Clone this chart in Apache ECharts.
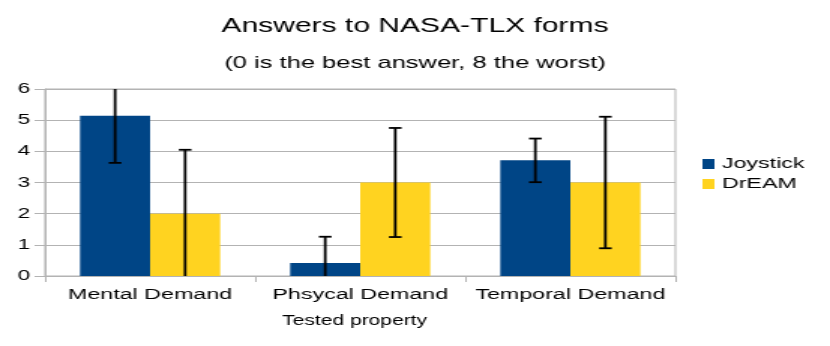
<!DOCTYPE html>
<html>
<head>
<meta charset="utf-8">
<script src="https://cdn.jsdelivr.net/npm/echarts@6/dist/echarts.min.js"></script>
<style>
html, body { margin: 0; padding: 0; overflow: hidden; background: #fff; }
/* the reference picture is stretched sideways, so draw narrow and stretch */
#main { width: 553px; height: 346px; transform: scaleX(1.5009); transform-origin: 0 0; }
</style>
</head>
<body>
<div id="main"></div>
<script>
var categories = ['Mental Demand', 'Phsycal Demand', 'Temporal Demand'];
var joystick = [5.14, 0.42, 3.71];
var joystickErr = [1.51, 0.84, 0.70];
var dream = [2.0, 3.0, 3.0];
var dreamErr = [2.05, 1.75, 2.11];
var yTicks = [0, 1, 2, 3, 4, 5, 6];

var font = 'Liberation Sans';
var yMin = yTicks[0], yMax = yTicks[yTicks.length - 1];
var catGap = 0.333;

function errData(vals, errs) {
    return vals.map(function (v, i) { return [i, v - errs[i], v + errs[i]]; });
}

// side: -1 for first bar, +1 for second
function errSeries(name, vals, errs, side) {
    return {
        name: name,
        type: 'custom',
        z: 10,
        data: errData(vals, errs),
        encode: { x: 0, y: [1, 2] },
        renderItem: function (params, api) {
            var idx = api.value(0);
            var lo = api.value(1), hi = api.value(2);
            var band = api.size([1, 0])[0];
            var barW = band * (1 - catGap) / 2;
            var capLo = lo >= yMin, capHi = hi <= yMax;
            lo = Math.max(lo, yMin);
            hi = Math.min(hi, yMax);
            var pLo = api.coord([idx, lo]);
            var pHi = api.coord([idx, hi]);
            var x = pLo[0] + side * barW / 2;
            var cw = 4.2;
            var style = { stroke: '#000', lineWidth: 1.8 };
            var kids = [{ type: 'line', shape: { x1: x, y1: pLo[1], x2: x, y2: pHi[1] }, style: style }];
            if (capHi) kids.push({ type: 'line', shape: { x1: x - cw, y1: pHi[1], x2: x + cw, y2: pHi[1] }, style: style });
            if (capLo) kids.push({ type: 'line', shape: { x1: x - cw, y1: pLo[1], x2: x + cw, y2: pLo[1] }, style: style });
            return { type: 'group', children: kids };
        }
    };
}

var myChart = echarts.init(document.getElementById('main'));
var option = {
    animation: false,
    textStyle: { fontFamily: font },
    title: [
        { text: 'Answers to NASA-TLX forms', left: 'center', top: 11,
          textStyle: { fontFamily: font, fontSize: 20, fontWeight: 'normal', color: '#000' } },
        { text: '(0 is the best answer, 8 the worst)', left: 'center', top: 50,
          textStyle: { fontFamily: font, fontSize: 17, fontWeight: 'normal', color: '#000' } },
        { text: 'Tested property', left: 183, top: 309,
          textStyle: { fontFamily: font, fontSize: 14, fontWeight: 'normal', color: '#000' } }
    ],
    legend: {
        orient: 'vertical',
        left: 463,
        top: 151,
        itemWidth: 8,
        itemHeight: 10,
        itemGap: 4,
        icon: 'rect',
        data: ['Joystick', 'DrEAM'],
        textStyle: { fontFamily: font, fontSize: 15.5, color: '#000' }
    },
    grid: {
        left: 30, right: 103, top: 89, bottom: 70,
        show: true, borderColor: '#b3b3b3', borderWidth: 1
    },
    xAxis: {
        type: 'category',
        data: categories,
        axisLine: { lineStyle: { color: '#b3b3b3' } },
        axisTick: { show: true, length: 6, lineStyle: { color: '#b3b3b3' } },
        axisLabel: { fontFamily: font, fontSize: 15.5, color: '#000', margin: 11, interval: 0 }
    },
    yAxis: {
        type: 'value',
        min: yMin, max: yMax, interval: 1,
        axisLine: { show: true, lineStyle: { color: '#b3b3b3' } },
        axisTick: { show: true, length: 7, lineStyle: { color: '#b3b3b3' } },
        splitLine: { lineStyle: { color: '#b3b3b3' } },
        axisLabel: { fontFamily: font, fontSize: 15, color: '#000', margin: 10 }
    },
    series: [
        { name: 'Joystick', type: 'bar', data: joystick, barGap: '0%', barCategoryGap: '33.3%',
          itemStyle: { color: '#004586' } },
        { name: 'DrEAM', type: 'bar', data: dream, barGap: '0%', barCategoryGap: '33.3%',
          itemStyle: { color: '#ffd320' } },
        errSeries('Joystick error', joystick, joystickErr, -1),
        errSeries('DrEAM error', dream, dreamErr, 1)
    ]
};
myChart.setOption(option);
</script>
</body>
</html>
